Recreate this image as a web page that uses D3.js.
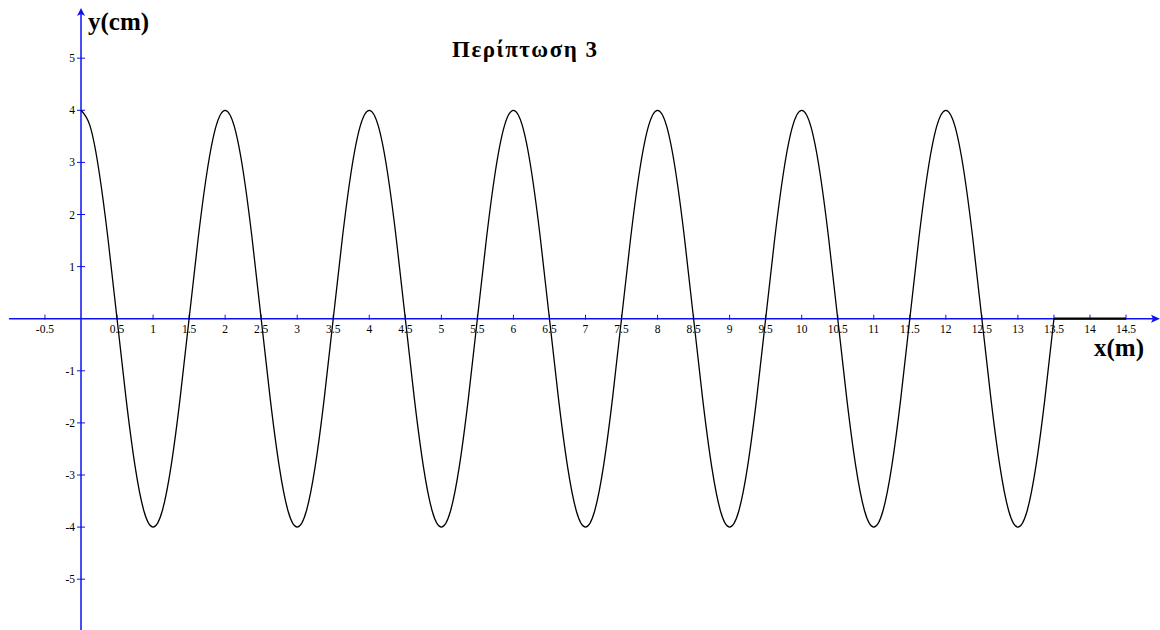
<!DOCTYPE html>
<html>
<head>
<meta charset="utf-8">
<script src="https://cdn.jsdelivr.net/npm/d3@7"></script>
<style>
  html, body { margin: 0; padding: 0; background: #fff; }
  svg { display: block; }
</style>
</head>
<body>
<svg id="chart" width="1160" height="630"></svg>
<script>
// Displacement profile y(x) of the wave, sampled every 0.125 m from 0 to 13.5 m
const sampleStep = 0.125;
const waveY = [
  4, 3.7, 2.83, 1.53, 0, -1.53, -2.83, -3.7, -4, -3.7, -2.83, -1.53, 0, 1.53, 2.83, 3.7,
  4, 3.7, 2.83, 1.53, 0, -1.53, -2.83, -3.7, -4, -3.7, -2.83, -1.53, 0, 1.53, 2.83, 3.7,
  4, 3.7, 2.83, 1.53, 0, -1.53, -2.83, -3.7, -4, -3.7, -2.83, -1.53, 0, 1.53, 2.83, 3.7,
  4, 3.7, 2.83, 1.53, 0, -1.53, -2.83, -3.7, -4, -3.7, -2.83, -1.53, 0, 1.53, 2.83, 3.7,
  4, 3.7, 2.83, 1.53, 0, -1.53, -2.83, -3.7, -4, -3.7, -2.83, -1.53, 0, 1.53, 2.83, 3.7,
  4, 3.7, 2.83, 1.53, 0, -1.53, -2.83, -3.7, -4, -3.7, -2.83, -1.53, 0, 1.53, 2.83, 3.7,
  4, 3.7, 2.83, 1.53, 0, -1.53, -2.83, -3.7, -4, -3.7, -2.83, -1.53, 0
];
const waveX = waveY.map((_, i) => i * sampleStep);

// Undisturbed stretch of the medium (not yet reached by the wave)
const restX = [13.5, 14.5];
const restY = [0, 0];

// Axis ticks
const xTicks = [-0.5, 0.5, 1, 1.5, 2, 2.5, 3, 3.5, 4, 4.5, 5, 5.5, 6, 6.5, 7, 7.5, 8, 8.5, 9, 9.5,
                10, 10.5, 11, 11.5, 12, 12.5, 13, 13.5, 14, 14.5];
const yTicks = [5, 4, 3, 2, 1, -1, -2, -3, -4, -5];

const title = "Περίπτωση 3";
const xLabel = "x(m)";
const yLabel = "y(cm)";

const svg = d3.select("#chart");
const axisBlue = "#1010f0";
const serif = "'Liberation Serif', 'Times New Roman', serif";

const x = d3.scaleLinear().domain([-1, 15]).range([8.93, 1162.05]);
const y = d3.scaleLinear().domain([-6, 6]).range([631.3, 6.1]);

const x0 = x(0), y0 = y(0);

// Horizontal axis with arrow
svg.append("line")
  .attr("x1", x(-1)).attr("x2", 1156)
  .attr("y1", y0).attr("y2", y0)
  .attr("stroke", axisBlue).attr("stroke-width", 1.5);
svg.append("path")
  .attr("d", `M1160,${y0} L1151,${y0 - 4} L1153,${y0} L1151,${y0 + 4} Z`)
  .attr("fill", axisBlue);

// Vertical axis with arrow
svg.append("line")
  .attr("x1", x0).attr("x2", x0)
  .attr("y1", 12).attr("y2", 630)
  .attr("stroke", axisBlue).attr("stroke-width", 1.5);
svg.append("path")
  .attr("d", `M${x0},8 L${x0 - 4},16 L${x0},14 L${x0 + 4},16 Z`)
  .attr("fill", axisBlue);

// x ticks and labels
const xt = svg.append("g");
xt.selectAll("line").data(xTicks).join("line")
  .attr("x1", d => x(d)).attr("x2", d => x(d))
  .attr("y1", y0 - 4).attr("y2", y0 + 1)
  .attr("stroke", axisBlue).attr("stroke-width", 1);
xt.selectAll("text").data(xTicks).join("text")
  .attr("x", d => x(d)).attr("y", y0 + 14)
  .attr("text-anchor", "middle")
  .attr("font-family", serif).attr("font-size", 11.5)
  .attr("fill", "#000")
  .text(d => String(d));

// y ticks and labels
const yt = svg.append("g");
yt.selectAll("line").data(yTicks).join("line")
  .attr("x1", x0 - 4).attr("x2", x0 + 4)
  .attr("y1", d => y(d)).attr("y2", d => y(d))
  .attr("stroke", axisBlue).attr("stroke-width", 1);
yt.selectAll("text").data(yTicks).join("text")
  .attr("x", x0 - 6).attr("y", d => y(d) + 4)
  .attr("text-anchor", "end")
  .attr("font-family", serif).attr("font-size", 11.5)
  .attr("fill", "#000")
  .text(d => String(d));

// Wave profile
const line = d3.line()
  .x((d, i) => x(waveX[i]))
  .y(d => y(d))
  .curve(d3.curveNatural);
svg.append("path")
  .attr("d", line(waveY))
  .attr("fill", "none")
  .attr("stroke", "#000")
  .attr("stroke-width", 1.3);

// Undisturbed part
svg.append("path")
  .attr("d", d3.line().x((d, i) => x(restX[i])).y(d => y(d))(restY))
  .attr("fill", "none")
  .attr("stroke", "#000")
  .attr("stroke-width", 2.2);

// Titles and axis names
svg.append("text")
  .attr("x", 452).attr("y", 57)
  .attr("font-family", serif).attr("font-weight", "bold").attr("font-size", 23)
  .attr("textLength", 145).attr("lengthAdjust", "spacing")
  .text(title);
svg.append("text")
  .attr("x", 88).attr("y", 30)
  .attr("font-family", serif).attr("font-weight", "bold").attr("font-size", 25)
  .text(yLabel);
svg.append("text")
  .attr("x", 1094).attr("y", 356)
  .attr("font-family", serif).attr("font-weight", "bold").attr("font-size", 25)
  .text(xLabel);
</script>
</body>
</html>
